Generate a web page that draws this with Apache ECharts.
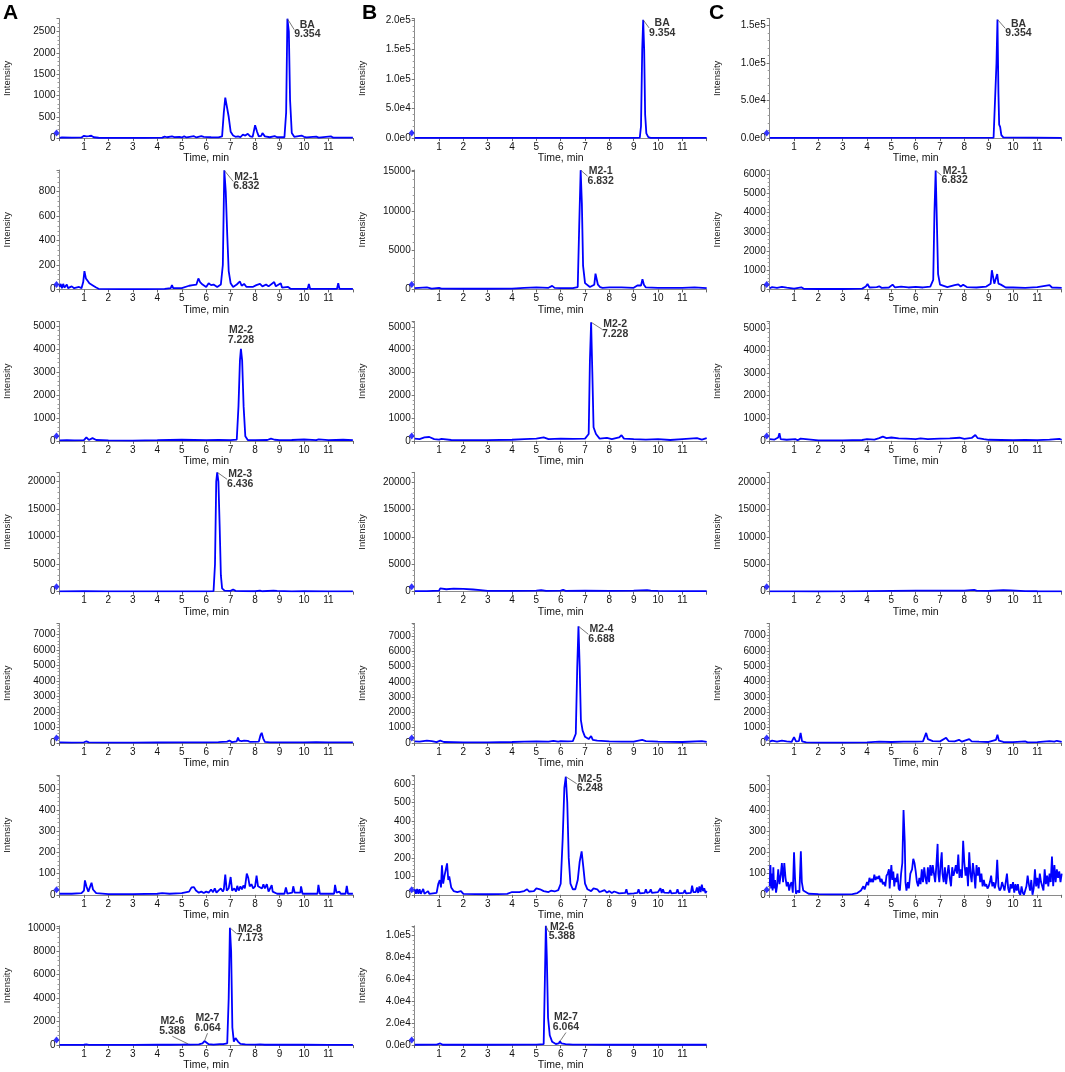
<!DOCTYPE html>
<html>
<head>
<meta charset="utf-8">
<script src="https://cdn.jsdelivr.net/npm/echarts@6/dist/echarts.min.js"></script>
<style>
html, body { margin: 0; padding: 0; background: #fff; }
#main { width: 1065px; height: 1072px; }
</style>
</head>
<body>
<div id="main"></div>
<script>
'use strict';

/* 时间轴 0-12 min, 每个面板一条色谱曲线 [time, intensity] */
var timeMax = 12;

// A 列
var a1 = [[0,5],[0.1,15],[0.5,10],[0.9,15],[1.0,55],[1.1,40],[1.2,45],[1.3,55],[1.4,20],[1.6,8],[2.5,5],[3.5,5],[4.2,10],[4.3,35],[4.4,20],[4.6,40],[4.7,25],[4.9,30],[5.0,15],[5.1,40],[5.2,15],[5.5,45],[5.6,15],[5.8,45],[5.9,30],[6.2,20],[6.5,15],[6.65,40],[6.72,600],[6.78,950],[6.85,920],[6.92,500],[7.0,150],[7.1,60],[7.2,30],[7.3,40],[7.4,25],[7.5,80],[7.6,60],[7.7,100],[7.8,40],[7.9,30],[8.0,300],[8.08,150],[8.15,40],[8.25,50],[8.3,120],[8.4,40],[8.6,20],[8.8,45],[8.9,20],[9.2,20],[9.27,600],[9.32,2800],[9.38,2500],[9.43,900],[9.5,120],[9.6,30],[9.9,60],[10.0,30],[10.1,15],[10.5,35],[10.6,10],[11.1,40],[11.2,10],[12,10]];
var a2 = [[0,20],[0.05,45],[0.1,10],[0.15,45],[0.2,15],[0.3,40],[0.35,10],[0.5,25],[0.6,10],[0.8,20],[0.9,10],[0.97,60],[1.02,150],[1.08,90],[1.15,70],[1.22,50],[1.3,40],[1.38,30],[1.5,15],[1.6,5],[2.5,3],[3.5,3],[4.3,5],[4.55,10],[4.6,35],[4.65,10],[5.0,10],[5.3,30],[5.45,35],[5.6,40],[5.68,90],[5.75,60],[5.85,40],[6.0,20],[6.1,50],[6.2,35],[6.3,40],[6.45,20],[6.6,40],[6.68,200],[6.74,975],[6.8,800],[6.86,450],[6.92,150],[7.0,50],[7.1,20],[7.25,40],[7.3,55],[7.38,65],[7.45,30],[7.55,45],[7.65,20],[7.9,20],[8.05,35],[8.2,45],[8.3,25],[8.45,40],[8.55,25],[8.78,60],[8.85,25],[9.05,50],[9.1,15],[9.35,20],[9.45,5],[10.15,5],[10.2,45],[10.25,5],[11.35,5],[11.4,50],[11.45,5],[12,5]];
var a3 = [[0,20],[0.3,30],[0.6,20],[1.0,30],[1.1,150],[1.2,40],[1.35,120],[1.4,170],[1.5,40],[2,20],[3,15],[4,30],[4.5,40],[5,50],[5.5,40],[6,30],[6.5,40],[7.0,30],[7.25,60],[7.32,1500],[7.38,3500],[7.42,4000],[7.47,3500],[7.53,1500],[7.6,200],[7.7,40],[8.0,30],[8.5,40],[8.65,100],[8.72,120],[8.8,50],[9,30],[9.5,40],[10,60],[10.5,30],[10.6,70],[11,30],[11.6,50],[12,30]];
var a4 = [[0,50],[1,80],[2,50],[3,60],[4,50],[5,60],[6,70],[6.3,100],[6.36,5000],[6.41,20000],[6.45,21700],[6.5,20000],[6.55,12000],[6.6,3000],[6.65,600],[6.75,200],[7.0,150],[7.1,400],[7.2,150],[7.5,100],[8.0,80],[8.2,200],[8.3,80],[8.75,200],[8.82,500],[8.9,150],[9.5,60],[10,80],[11,60],[12,50]];
var a5 = [[0,30],[0.5,20],[1.0,40],[1.1,100],[1.2,30],[2,20],[3,20],[4,25],[5,30],[6,40],[6.5,50],[6.85,80],[6.95,150],[7.05,50],[7.25,100],[7.3,350],[7.35,150],[7.45,120],[7.55,150],[7.7,130],[7.8,60],[8.15,80],[8.22,500],[8.27,650],[8.33,300],[8.4,60],[8.6,30],[9,30],[10,30],[10.5,50],[11,30],[12,30]];
var a6 = [[0,5],[0.5,5],[0.9,8],[1.0,20],[1.04,68],[1.1,40],[1.18,15],[1.25,20],[1.31,57],[1.37,25],[1.45,20],[1.5,8],[2,3],[3,3],[4,5],[4.2,8],[4.5,5],[5.0,8],[5.3,15],[5.4,35],[5.5,36],[5.58,20],[5.7,10],[5.8,15],[5.9,8],[6.0,15],[6.1,10],[6.2,25],[6.28,12],[6.35,30],[6.42,10],[6.5,20],[6.6,30],[6.68,15],[6.72,25],[6.78,95],[6.84,20],[6.92,30],[7.0,84],[7.06,20],[7.15,30],[7.22,15],[7.27,42],[7.33,20],[7.4,40],[7.46,25],[7.52,44],[7.58,30],[7.66,100],[7.72,80],[7.78,40],[7.85,50],[7.92,30],[8.0,40],[8.06,90],[8.12,40],[8.2,45],[8.28,30],[8.34,50],[8.4,30],[8.48,50],[8.55,15],[8.68,45],[8.72,15],[8.9,5],[9.2,5],[9.26,35],[9.32,5],[9.52,10],[9.56,40],[9.62,10],[9.68,15],[9.85,10],[9.88,40],[9.94,5],[10.55,5],[10.59,47],[10.65,5],[11.23,5],[11.27,47],[11.33,10],[11.45,15],[11.5,5],[11.7,5],[11.75,42],[11.8,5],[12,5]];
var a7 = [[0,20],[1.0,30],[1.1,60],[1.2,20],[2,20],[3,20],[4,30],[4.5,30],[5,40],[5.2,60],[5.27,90],[5.35,40],[5.7,60],[5.85,150],[5.93,350],[6.0,250],[6.1,80],[6.3,40],[6.55,80],[6.63,200],[6.7,80],[6.86,150],[6.92,4000],[6.97,10000],[7.02,8000],[7.07,1500],[7.13,300],[7.2,600],[7.25,750],[7.3,300],[7.4,100],[7.6,60],[8,40],[8.2,60],[8.4,30],[9,30],[10,30],[11,20],[12,20]];

// B 列
var b1 = [[0,300],[5,300],[9,400],[9.25,800],[9.3,20000],[9.35,150000],[9.39,200000],[9.43,150000],[9.47,40000],[9.52,8000],[9.6,1500],[9.7,500],[12,300]];
var b2 = [[0,150],[0.5,250],[0.7,100],[1.0,200],[1.1,100],[2,80],[3,80],[4,100],[4.5,200],[5,250],[5.5,200],[5.65,450],[5.75,200],[6,150],[6.5,150],[6.7,300],[6.76,8000],[6.82,15200],[6.87,11000],[6.92,3000],[7.0,800],[7.2,300],[7.38,600],[7.43,2000],[7.48,2100],[7.53,600],[7.62,300],[7.66,550],[7.72,200],[8,250],[8.5,250],[9.0,200],[9.15,500],[9.22,400],[9.3,500],[9.36,1300],[9.42,600],[9.5,250],[10,200],[11,200],[11.5,250],[12,150]];
var b3 = [[0,100],[0.2,80],[0.4,150],[0.6,170],[0.8,80],[1.0,60],[1.1,90],[1.5,40],[2,30],[3,30],[4,50],[4.5,80],[5,100],[5.3,150],[5.5,80],[6,100],[6.5,90],[7.0,100],[7.15,300],[7.2,3500],[7.25,5200],[7.3,3000],[7.35,600],[7.45,300],[7.6,100],[7.9,130],[8.1,80],[8.4,150],[8.5,250],[8.6,100],[9,80],[9.5,60],[10,80],[10.5,40],[11,80],[11.6,120],[11.8,60],[12,120]];
var b4 = [[0,100],[0.5,100],[1.0,200],[1.05,600],[1.1,300],[1.3,450],[1.6,550],[2.0,500],[2.4,400],[2.7,300],[3,150],[4,150],[5,200],[5.2,300],[5.4,150],[6,200],[6.1,350],[6.2,150],[7,200],[8,150],[9,200],[9.55,300],[9.6,450],[9.7,200],[10,150],[11,100],[12,100]];
var b5 = [[0,100],[0.2,80],[0.5,150],[0.7,120],[0.9,50],[1.05,150],[1.2,60],[2,30],[3,30],[4,60],[4.5,80],[5,100],[5.5,80],[5.7,130],[5.9,80],[6.0,120],[6.3,100],[6.5,120],[6.62,600],[6.68,5000],[6.73,7650],[6.78,5000],[6.83,1500],[6.9,800],[7.0,400],[7.15,250],[7.25,450],[7.32,200],[7.5,150],[8,100],[8.5,80],[9,80],[9.35,200],[9.42,260],[9.5,120],[10,80],[11,60],[11.8,120],[12,60]];
var b6 = [[0,30],[0.05,5],[0.1,32],[0.15,5],[0.2,30],[0.25,5],[0.35,32],[0.4,5],[0.55,20],[0.6,5],[0.9,10],[0.97,60],[1.03,80],[1.08,40],[1.12,160],[1.17,60],[1.22,100],[1.28,100],[1.33,170],[1.38,80],[1.42,100],[1.5,40],[1.6,20],[1.68,30],[1.75,15],[1.9,20],[2.0,5],[3,3],[3.8,5],[4.0,15],[4.3,15],[4.5,20],[4.62,30],[4.7,18],[4.9,20],[5.0,35],[5.08,25],[5.15,30],[5.3,20],[5.5,15],[5.6,22],[5.75,18],[5.9,25],[6.0,60],[6.08,300],[6.15,580],[6.21,640],[6.27,500],[6.33,200],[6.4,60],[6.5,30],[6.6,30],[6.7,80],[6.78,180],[6.86,235],[6.93,150],[7.0,60],[7.1,30],[7.25,20],[7.35,35],[7.42,40],[7.5,30],[7.6,15],[7.7,20],[7.8,25],[7.9,12],[8.0,20],[8.1,10],[8.2,18],[8.4,8],[8.65,10],[8.7,30],[8.75,5],[9.0,8],[9.15,10],[9.2,30],[9.25,8],[9.45,10],[9.5,30],[9.55,10],[9.65,15],[9.7,30],[9.75,10],[10.0,15],[10.1,35],[10.15,10],[10.2,30],[10.25,12],[10.45,10],[10.5,25],[10.55,8],[10.75,10],[10.8,30],[10.85,8],[11.05,10],[11.1,25],[11.15,8],[11.35,10],[11.4,50],[11.45,15],[11.55,15],[11.6,40],[11.65,10],[11.7,45],[11.75,15],[11.8,55],[11.85,20],[11.9,35],[11.95,10],[12,20]];
var b7 = [[0,300],[0.9,400],[0.97,2000],[1.05,1500],[1.15,300],[3,300],[4.6,400],[5,400],[5.3,800],[5.35,60000],[5.39,109000],[5.43,80000],[5.48,25000],[5.55,9000],[5.65,3000],[5.8,1000],[5.92,1500],[5.97,3500],[6.03,1500],[6.2,800],[6.5,500],[7,400],[8,300],[12,300]];

// C 列
var c1 = [[0,300],[9.2,500],[9.28,2000],[9.32,100000],[9.36,158000],[9.4,60000],[9.43,18000],[9.47,15000],[9.52,4000],[9.6,1000],[12,300]];
var c2 = [[0,60],[0.1,120],[0.3,80],[0.5,130],[0.7,90],[1.0,40],[1.3,110],[1.4,30],[2,20],[3,20],[3.8,40],[3.95,150],[4.02,280],[4.1,100],[4.4,120],[4.5,160],[4.6,80],[4.9,100],[5.05,250],[5.15,100],[5.4,150],[5.7,100],[6.0,130],[6.3,100],[6.6,150],[6.72,500],[6.77,4000],[6.82,6200],[6.87,3500],[6.92,800],[7.0,250],[7.3,120],[7.6,220],[7.75,260],[7.85,150],[7.95,240],[8.1,120],[8.5,100],[8.9,150],[9.08,300],[9.13,1000],[9.18,1060],[9.23,300],[9.3,400],[9.35,800],[9.4,300],[9.5,250],[9.7,100],[10,100],[10.5,80],[11,120],[11.5,220],[11.6,100],[12,80]];
var c3 = [[0,80],[0.2,60],[0.35,150],[0.4,340],[0.45,80],[0.7,50],[1.05,80],[1.15,30],[1.27,100],[1.3,160],[1.35,40],[2,20],[3,20],[3.8,40],[4,80],[4.3,60],[4.5,120],[4.65,190],[4.8,120],[5.0,150],[5.3,110],[5.6,100],[6,80],[6.2,110],[6.5,80],[7,100],[7.4,110],[7.8,140],[8.0,90],[8.3,130],[8.45,260],[8.55,120],[8.8,80],[9,50],[9.5,40],[10,30],[10.5,40],[11,30],[11.5,60],[11.9,90],[12,50]];
var c4 = [[0,50],[1,60],[2,40],[3,50],[4,100],[5,150],[6,200],[7,200],[8,200],[8.4,350],[8.5,200],[9,150],[9.6,300],[9.9,250],[10.5,100],[11,80],[12,60]];
var c5 = [[0,80],[0.1,150],[0.3,80],[0.5,150],[0.7,100],[0.9,60],[1.0,380],[1.08,100],[1.2,120],[1.27,650],[1.33,100],[1.5,40],[2,20],[3,20],[4,40],[4.5,80],[5,60],[5.5,80],[6,80],[6.3,100],[6.43,650],[6.5,250],[6.7,120],[7,100],[7.25,330],[7.35,120],[7.6,100],[7.78,200],[7.9,80],[8.2,250],[8.3,100],[8.6,80],[9,60],[9.3,200],[9.36,540],[9.42,150],[9.6,60],[10,50],[10.5,100],[10.6,40],[11,50],[11.5,120],[11.7,80],[11.8,140],[12,60]];
var c6 = [[0,40],[0.03,140],[0.06,30],[0.09,100],[0.12,20],[0.15,130],[0.18,30],[0.22,70],[0.26,10],[0.3,40],[0.35,120],[0.4,50],[0.45,90],[0.5,150],[0.55,60],[0.6,150],[0.65,80],[0.7,40],[0.75,60],[0.8,20],[0.85,50],[0.9,60],[0.95,10],[1.0,200],[1.04,80],[1.08,5],[1.15,20],[1.22,10],[1.28,205],[1.32,60],[1.38,20],[1.45,15],[1.6,5],[2.0,3],[2.5,2],[3.0,2],[3.4,3],[3.6,8],[3.75,20],[3.85,40],[3.9,25],[4.0,60],[4.05,45],[4.1,80],[4.15,60],[4.2,75],[4.25,60],[4.3,95],[4.35,70],[4.4,85],[4.45,75],[4.5,90],[4.55,60],[4.6,75],[4.65,50],[4.7,60],[4.75,40],[4.8,90],[4.85,100],[4.9,120],[4.93,30],[4.97,100],[5.0,140],[5.04,70],[5.08,110],[5.12,40],[5.16,80],[5.2,60],[5.25,100],[5.3,30],[5.35,20],[5.4,100],[5.45,150],[5.5,400],[5.55,250],[5.58,60],[5.62,20],[5.68,60],[5.72,30],[5.78,100],[5.85,120],[5.9,170],[5.95,150],[6.0,110],[6.05,60],[6.1,40],[6.15,80],[6.2,50],[6.25,120],[6.3,60],[6.35,130],[6.4,80],[6.45,50],[6.5,130],[6.55,60],[6.6,140],[6.65,90],[6.7,140],[6.75,100],[6.8,60],[6.85,140],[6.9,240],[6.93,100],[6.97,60],[7.02,140],[7.07,200],[7.1,100],[7.15,60],[7.2,130],[7.25,50],[7.3,100],[7.35,140],[7.4,80],[7.45,40],[7.5,130],[7.55,90],[7.6,110],[7.65,140],[7.7,100],[7.75,190],[7.8,80],[7.85,120],[7.9,80],[7.95,255],[8.0,150],[8.05,90],[8.1,130],[8.15,40],[8.2,200],[8.25,100],[8.3,60],[8.35,150],[8.4,100],[8.45,30],[8.5,140],[8.55,90],[8.6,130],[8.65,60],[8.7,100],[8.75,40],[8.8,70],[8.85,40],[8.9,50],[8.95,30],[9.0,40],[9.05,60],[9.1,90],[9.15,40],[9.2,60],[9.25,30],[9.3,60],[9.35,165],[9.4,40],[9.45,20],[9.5,30],[9.55,60],[9.6,40],[9.65,20],[9.7,60],[9.75,100],[9.8,30],[9.85,10],[9.9,50],[9.95,30],[10.0,60],[10.05,10],[10.1,50],[10.15,20],[10.2,50],[10.25,10],[10.3,0],[10.35,40],[10.4,10],[10.45,0],[10.5,20],[10.55,40],[10.6,90],[10.65,50],[10.7,20],[10.75,70],[10.8,0],[10.85,30],[10.9,120],[10.95,40],[11.0,80],[11.05,30],[11.1,100],[11.15,60],[11.2,40],[11.25,20],[11.3,120],[11.35,50],[11.4,90],[11.45,40],[11.5,100],[11.55,60],[11.6,180],[11.65,40],[11.7,140],[11.75,60],[11.8,120],[11.85,80],[11.9,110],[11.95,60],[12,100]];

// 面板：列、行、曲线、y 轴上限/间隔、峰标注（在 win 时间窗内取最高点）
var panels = [
    { col: 0, row: 0, data: a1, max: 2800, step: 500, tags: [{ text: 'BA\n9.354', win: [9, 10], dx: 20, dy: 11 }] },
    { col: 0, row: 1, data: a2, max: 978, step: 200, tags: [{ text: 'M2-1\n6.832', win: [6.5, 7], dx: 22, dy: 11 }] },
    { col: 0, row: 2, data: a3, max: 5190, step: 1000, tags: [{ text: 'M2-2\n7.228', win: [7, 8], dx: 0, dy: -14, noLine: true }] },
    { col: 0, row: 3, data: a4, max: 21700, step: 5000, tags: [{ text: 'M2-3\n6.436', win: [6, 7], dx: 23, dy: 7 }] },
    { col: 0, row: 4, data: a5, max: 7715, step: 1000, tags: [] },
    { col: 0, row: 5, data: a6, max: 563, step: 100, tags: [] },
    { col: 0, row: 6, data: a7, max: 10170, step: 2000, tags: [
        { text: 'M2-8\n7.173', win: [6.8, 7.1], dx: 20, dy: 6 },
        { text: 'M2-6\n5.388', win: [5.1, 5.5], dx: -16, dy: -18 },
        { text: 'M2-7\n6.064', win: [5.7, 6.2], dx: 3, dy: -18 }] },
    { col: 1, row: 0, data: b1, max: 202000, step: 50000, exp: true, tags: [{ text: 'BA\n9.354', win: [9, 10], dx: 19, dy: 8 }] },
    { col: 1, row: 1, data: b2, max: 15220, step: 5000, tags: [{ text: 'M2-1\n6.832', win: [6.5, 7], dx: 20, dy: 6 }] },
    { col: 1, row: 2, data: b3, max: 5232, step: 1000, tags: [{ text: 'M2-2\n7.228', win: [7, 7.5], dx: 24, dy: 7 }] },
    { col: 1, row: 3, data: b4, max: 21830, step: 5000, tags: [] },
    { col: 1, row: 4, data: b5, max: 7833, step: 1000, tags: [{ text: 'M2-4\n6.688', win: [6.5, 7], dx: 23, dy: 8 }] },
    { col: 1, row: 5, data: b6, max: 647, step: 100, tags: [{ text: 'M2-5\n6.248', win: [6, 6.5], dx: 24, dy: 7 }] },
    { col: 1, row: 6, data: b7, max: 109000, step: 20000, exp: true, tags: [
        { text: 'M2-6\n5.388', win: [5, 5.6], dx: 16, dy: 6 },
        { text: 'M2-7\n6.064', win: [5.8, 6.2], dx: 6, dy: -19 }] },
    { col: 2, row: 0, data: c1, max: 159000, step: 50000, exp: true, tags: [{ text: 'BA\n9.354', win: [9, 10], dx: 21, dy: 9 }] },
    { col: 2, row: 1, data: c2, max: 6224, step: 1000, tags: [{ text: 'M2-1\n6.832', win: [6.5, 7], dx: 19, dy: 5 }] },
    { col: 2, row: 2, data: c3, max: 5278, step: 1000, tags: [] },
    { col: 2, row: 3, data: c4, max: 21830, step: 5000, tags: [] },
    { col: 2, row: 4, data: c5, max: 7790, step: 1000, tags: [] },
    { col: 2, row: 5, data: c6, max: 563, step: 100, tags: [] }
];

// 布局
var colLeft = [59.5, 414.7, 769.7];
var colWidth = [293.4, 292, 292];
var rowTop = [18.7, 170, 321.5, 472.3, 623.5, 775.4, 925.8];
var plotHeight = 119.4;
var lineBlue = '#0000ff';
var axisGrey = '#8a8a8a';
var textFont = 'Arial, "Liberation Sans", sans-serif';

function peakIn(data, win) {
    var best = null;
    data.forEach(function(p) {
        if (p[0] >= win[0] && p[0] <= win[1] && (!best || p[1] > best[1])) best = p;
    });
    return best;
}

var myChart = echarts.init(document.getElementById('main'), null, { renderer: 'canvas' });

var grids = [], xAxes = [], yAxes = [], series = [];

panels.forEach(function(p, i) {
    grids.push({
        left: colLeft[p.col],
        top: rowTop[p.row],
        width: colWidth[p.col],
        height: plotHeight
    });
    xAxes.push({
        type: 'value',
        gridIndex: i,
        min: 0,
        max: timeMax,
        interval: 1,
        name: 'Time, min',
        nameLocation: 'middle',
        nameGap: 13,
        nameTextStyle: { fontSize: 10.5, color: '#111', fontFamily: textFont },
        axisLine: { show: true, lineStyle: { color: axisGrey, width: 1 } },
        axisTick: { show: true, length: 3, lineStyle: { color: '#666' } },
        axisLabel: {
            fontSize: 10,
            color: '#111',
            fontFamily: textFont,
            margin: 4,
            formatter: function(v) { return (v > 0 && v < timeMax) ? String(v) : ''; }
        },
        splitLine: { show: false }
    });
    yAxes.push({
        type: 'value',
        gridIndex: i,
        min: 0,
        max: p.max,
        interval: p.step,
        name: 'Intensity',
        nameLocation: 'middle',
        nameGap: 47,
        nameTextStyle: { fontSize: 9.5, color: '#222', fontFamily: textFont },
        axisLine: { show: true, lineStyle: { color: axisGrey, width: 1 } },
        axisTick: { show: true, length: 3, lineStyle: { color: '#777' } },
        minorTick: { show: true, splitNumber: 5, length: 2, lineStyle: { color: '#999' } },
        axisLabel: {
            showMaxLabel: false,
            fontSize: 10,
            color: '#111',
            fontFamily: textFont,
            margin: 4,
            formatter: function(v) {
                return p.exp ? v.toExponential(1).replace('+', '') : String(v);
            }
        },
        splitLine: { show: false }
    });
    // 色谱曲线
    series.push({
        type: 'line',
        xAxisIndex: i,
        yAxisIndex: i,
        data: p.data,
        showSymbol: false,
        silent: true,
        lineStyle: { color: lineBlue, width: 1.8 },
        z: 3
    });
    // 基线左侧的小标记
    series.push({
        type: 'scatter',
        xAxisIndex: i,
        yAxisIndex: i,
        data: [[0, 0]],
        symbol: 'diamond',
        symbolSize: [6, 7],
        symbolOffset: [-3, -5],
        itemStyle: { color: lineBlue },
        clip: false,
        silent: true,
        z: 4
    });
    // 峰标注
    p.tags.forEach(function(t) {
        series.push({
            type: 'scatter',
            xAxisIndex: i,
            yAxisIndex: i,
            data: [peakIn(p.data, t.win)],
            symbolSize: 1,
            itemStyle: { color: 'rgba(0,0,0,0)' },
            clip: false,
            silent: true,
            z: 5,
            label: {
                show: true,
                position: 'inside',
                formatter: t.text,
                color: '#000',
                fontWeight: 'bold',
                fontSize: 10.5,
                lineHeight: 9.5,
                fontFamily: textFont,
                align: 'center'
            },
            labelLayout: { dx: t.dx, dy: t.dy },
            labelLine: { show: !t.noLine, lineStyle: { color: '#555', width: 0.8 } }
        });
    });
});

var option = {
    animation: false,
    backgroundColor: '#fff',
    grid: grids,
    xAxis: xAxes,
    yAxis: yAxes,
    series: series,
    graphic: [
        { type: 'text', left: 3, top: 3, style: { text: 'A', font: 'bold 21px Arial, "Liberation Sans", sans-serif', fill: '#000' } },
        { type: 'text', left: 362, top: 3, style: { text: 'B', font: 'bold 21px Arial, "Liberation Sans", sans-serif', fill: '#000' } },
        { type: 'text', left: 709, top: 3, style: { text: 'C', font: 'bold 21px Arial, "Liberation Sans", sans-serif', fill: '#000' } }
    ]
};

myChart.setOption(option);
</script>
</body>
</html>
